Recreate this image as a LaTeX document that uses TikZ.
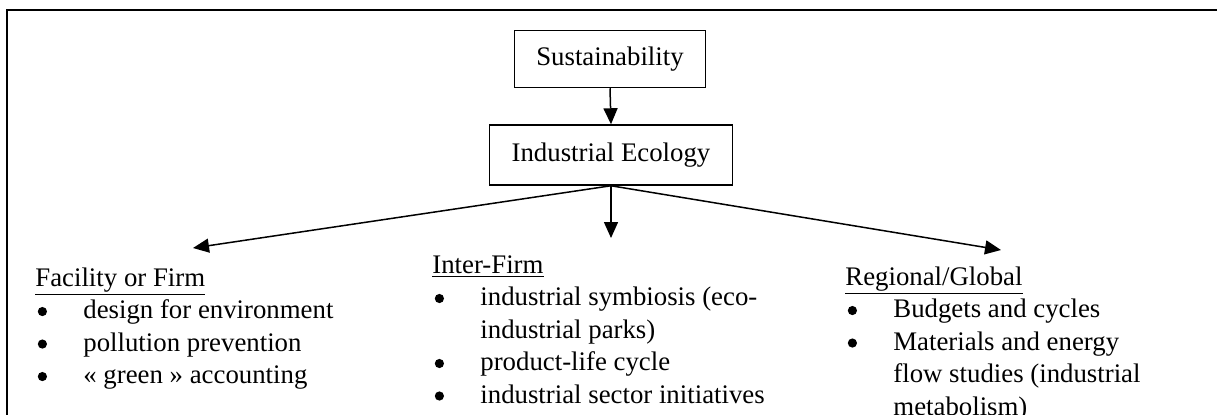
\documentclass[tikz,border=0pt]{standalone}
\usepackage{fontspec}
\setmainfont{Liberation Serif}
\usetikzlibrary{arrows.meta}

\newcommand{\bul}{\hspace{1.2pt}\tikz[baseline=-3.5pt]\fill (0,0) circle (2.3pt);}

\begin{document}
\begin{tikzpicture}[x=0.5pt,y=-0.5pt,
	every node/.style={font=\fontsize{13.4}{16.25}\selectfont},
	topbox/.style={draw,line width=0.75pt,inner xsep=11pt,minimum height=28.5pt},
	branch/.style={-{Triangle[length=8pt,width=7pt]},line width=0.75pt},
	column/.style={anchor=base west,inner sep=0pt}]
	\useasboundingbox (0,0) rectangle (1217,414);
	\draw[line width=1pt] (7,440) |- (1240,10);
	\node[topbox] (sus) at (610,59) {Sustainability};
	\node[topbox,minimum height=30pt] (ie) at (611,155) {Industrial Ecology};
	\draw[branch] (sus.south) -- (ie.north);
	\coordinate (left) at (193,248);
	\coordinate (mid) at (611,238);
	\coordinate (right) at (1001,250);
	\draw[branch] (ie.south) -- (left);
	\draw[branch] (ie.south) -- (mid);
	\draw[branch] (ie.south) -- (right);
	\node[column] (firm) at (35,286) {\begin{tabular}[t]{@{}p{24pt}@{}l@{}}
		\multicolumn{2}{@{}l}{\underline{Facility or Firm}}\\
		\bul & design for environment\\
		\bul & pollution prevention\\
		\bul & « green » accounting
	\end{tabular}};
	\node[column] (inter) at (432,273) {\begin{tabular}[t]{@{}p{24pt}@{}l@{}}
		\multicolumn{2}{@{}l}{\underline{Inter-Firm}}\\
		\bul & industrial symbiosis (eco-\\
		     & industrial parks)\\
		\bul & product-life cycle\\
		\bul & industrial sector initiatives
	\end{tabular}};
	\node[column] (region) at (845,285) {\begin{tabular}[t]{@{}p{24pt}@{}l@{}}
		\multicolumn{2}{@{}l}{\underline{Regional/Global}}\\
		\bul & Budgets and cycles\\
		\bul & Materials and energy\\
		     & flow studies (industrial\\
		     & metabolism)
	\end{tabular}};
\end{tikzpicture}
\end{document}
